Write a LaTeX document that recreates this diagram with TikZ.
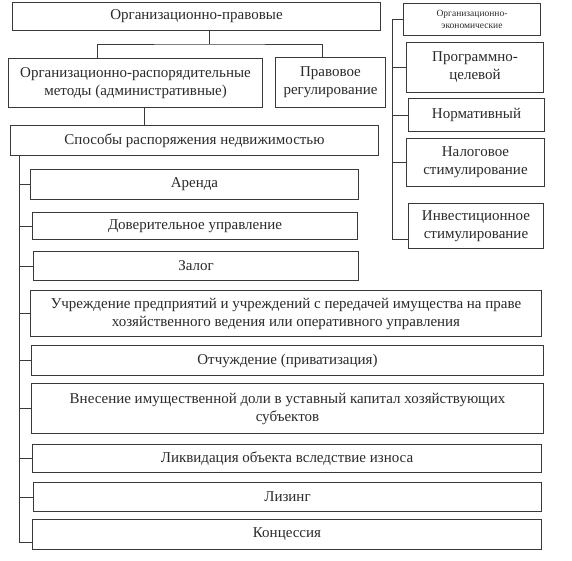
\documentclass[tikz,border=0pt]{standalone}
\usepackage{fontspec}
\setmainfont{Liberation Serif}
\usepackage{tikz}
\usetikzlibrary{positioning,calc}
\definecolor{rlLine}{HTML}{3A3A3A}
\definecolor{rlText}{HTML}{2A2A2A}
\newcommand{\rlfont}{\fontsize{15}{18}\selectfont}
\newcommand{\rltiny}{\fontsize{9.5}{11.5}\selectfont}
\tikzset{
  rlnode/.style={
    draw=rlLine, line width=1pt, anchor=north west, inner sep=1pt,
    align=center, font=\rlfont, text=rlText
  },
  rlsmall/.style={rlnode, font=\rltiny},
  link/.style={line width=1pt, rlLine}
}

\begin{document}
\begin{tikzpicture}[x=1pt, y=-1pt]
  \useasboundingbox[fill=white] (0,0) rectangle (572,560);
  \node[rlnode, minimum width=368pt, minimum height=28pt] (orgpr) at (12,2) {Организационно-правовые};
  \node[rlnode, minimum width=254pt, minimum height=49pt] (adm) at (8,58) {Организационно-распорядительные\\методы (административные)};
  \node[rlnode, minimum width=110pt, minimum height=50pt] (prav) at (275,57) {Правовое\\регулирование};
  \node[rlnode, minimum width=368pt, minimum height=30pt] (spos) at (10,125) {Способы распоряжения недвижимостью};
  \node[rlnode, minimum width=328pt, minimum height=30pt] (arenda) at (30,169) {Аренда};
  \node[rlnode, minimum width=325pt, minimum height=27pt] (dover) at (32,212) {Доверительное управление};
  \node[rlnode, minimum width=325pt, minimum height=29pt] (zalog) at (33,251) {Залог};
  \node[rlnode, minimum width=511pt, minimum height=46pt] (uchr) at (30,290) {Учреждение предприятий и учреждений с передачей имущества на праве\\хозяйственного ведения или оперативного управления};
  \node[rlnode, minimum width=512pt, minimum height=30pt] (otch) at (31,345) {Отчуждение (приватизация)};
  \node[rlnode, minimum width=512pt, minimum height=50pt] (vnes) at (31,383) {Внесение имущественной доли в уставный капитал хозяйствующих\\субъектов};
  \node[rlnode, minimum width=509pt, minimum height=28pt] (likv) at (32,444) {Ликвидация объекта вследствие износа};
  \node[rlnode, minimum width=508pt, minimum height=29pt] (lizing) at (33,482) {Лизинг};
  \node[rlnode, minimum width=509pt, minimum height=30pt] (konc) at (32,519) {Концессия};

  \node[rlsmall, minimum width=137pt, minimum height=32pt] (oe) at (403,3) {Организационно-\\экономические};
  \node[rlnode, minimum width=137pt, minimum height=50pt] (prog) at (406,42) {Программно-\\целевой};
  \node[rlnode, minimum width=136pt, minimum height=33pt] (norm) at (408,98) {Нормативный};
  \node[rlnode, minimum width=138pt, minimum height=48pt] (nalog) at (406,138) {Налоговое\\стимулирование};
  \node[rlnode, minimum width=135pt, minimum height=45pt] (inv) at (408,203) {Инвестиционное\\стимулирование};

  \coordinate (fork) at ([xshift=13pt, yshift=-13pt]orgpr.south);
  \draw[link] ([xshift=13pt]orgpr.south) -- (fork);
  \draw[link] ([xshift=-38pt]adm.north) |- (fork) -| ([xshift=-8pt]prav.north);
  \draw[link] ([xshift=9pt]adm.south) -- ([xshift=9pt]adm.south |- spos.north);

  \coordinate (ltr) at ([xshift=9pt]spos.south west);
  \draw[link] (ltr) |- ([yshift=-8pt]konc.west);
  \foreach \n in {arenda,dover,zalog,uchr,otch,vnes,likv,lizing}
    \draw[link] (ltr) |- (\n.west);

  \coordinate (rtr) at ([xshift=-11pt]oe.west);
  \draw[link] (oe.west) -- (rtr) |- ([yshift=-13pt]inv.west);
  \foreach \n in {prog,norm,nalog}
    \draw[link] (rtr) |- (\n.west);
\end{tikzpicture}
\end{document}
